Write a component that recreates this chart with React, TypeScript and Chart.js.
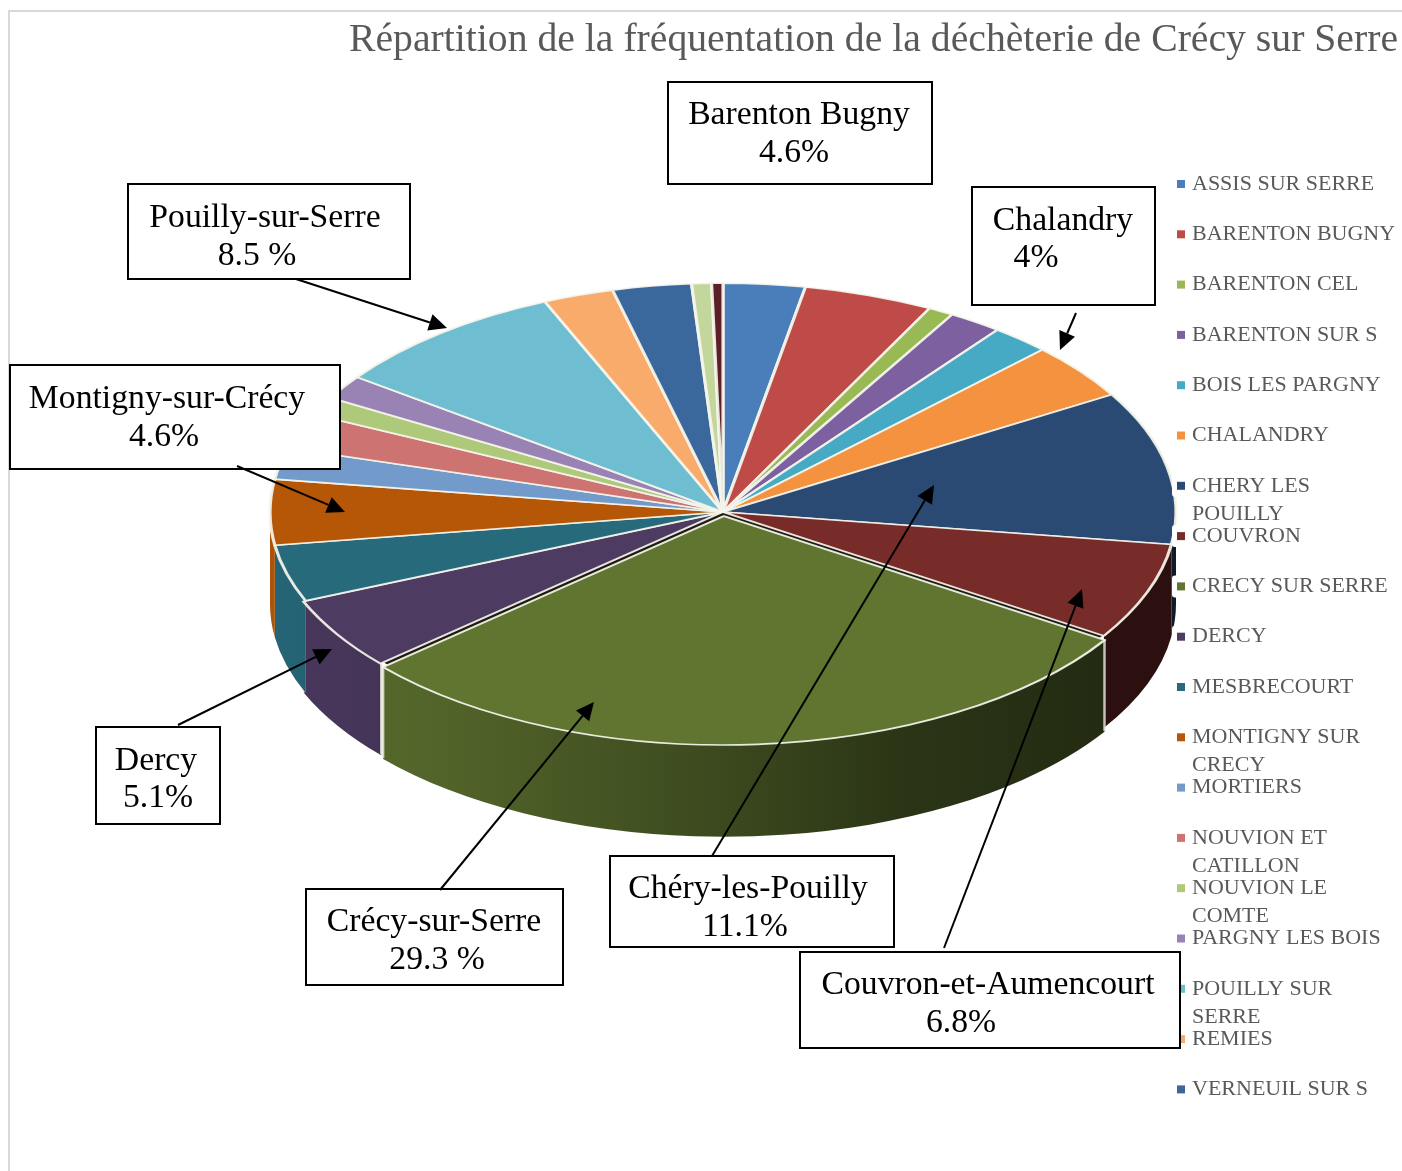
import React, { useEffect, useRef } from "react";
import { Chart, registerables } from "chart.js";

Chart.register(...registerables);

const titleText = "Répartition de la fréquentation de la déchèterie de Crécy sur Serre";

const communes = [
  "ASSIS SUR SERRE", "BARENTON BUGNY", "BARENTON CEL", "BARENTON SUR S", "BOIS LES PARGNY",
  "CHALANDRY", "CHERY LES POUILLY", "COUVRON", "CRECY SUR SERRE", "DERCY", "MESBRECOURT",
  "MONTIGNY SUR CRECY", "MORTIERS", "NOUVION ET CATILLON", "NOUVION LE COMTE", "PARGNY LES BOIS",
  "POUILLY SUR SERRE", "REMIES", "VERNEUIL SUR S", "", "",
];
const legendWraps: Record<string, string[]> = {
  "CHERY LES POUILLY": ["CHERY LES", "POUILLY"],
  "MONTIGNY SUR CRECY": ["MONTIGNY SUR", "CRECY"],
  "NOUVION ET CATILLON": ["NOUVION ET", "CATILLON"],
  "NOUVION LE COMTE": ["NOUVION LE", "COMTE"],
  "POUILLY SUR SERRE": ["POUILLY SUR", "SERRE"],
};
const shares = [2.9, 4.6, 0.9, 1.9, 2.1, 3.95, 10.8, 6.8, 29.3, 5.1, 4.0, 4.6, 2.2, 2.5, 1.3, 1.7, 8.5, 2.5, 2.8, 0.7, 0.4];
const sliceColors = [
  "#4a7ebb", "#be4b48", "#98b954", "#7d60a0", "#46aac4", "#f59240", "#2a4a73", "#772c2a", "#5f7530",
  "#4d3b62", "#276a7c", "#b65708", "#729aca", "#cd7371", "#afc97a", "#9983b5", "#6fbdd1", "#f9ab6b",
  "#3a679c", "#c3d69b", "#5c1f28",
];
const explode = [0, 0, 0, 0, 0, 0, 0, 0, 32, 6, 0, 0, 0, 0, 0, 0, 0, 0, 0, 0, 0];

const calloutTexts = [
  ["Barenton Bugny", "4.6%"],
  ["Chalandry", "4%"],
  ["Pouilly-sur-Serre", "8.5 %"],
  ["Montigny-sur-Crécy", "4.6%"],
  ["Dercy", "5.1%"],
  ["Crécy-sur-Serre", "29.3 %"],
  ["Chéry-les-Pouilly", "11.1%"],
  ["Couvron-et-Aumencourt", "6.8%"],
];
// box [x0,y0,x1,y1], text centres [x1,y1,x2,y2], arrow [fromX,fromY,toX,toY]
const calloutBoxes = [
  [668, 82, 932, 184], [972, 187, 1155, 305], [128, 184, 410, 279], [10, 365, 340, 469],
  [96, 727, 220, 824], [306, 889, 563, 985], [610, 856, 894, 947], [800, 952, 1180, 1048],
];
const calloutTextPos = [
  [799, 115, 794, 153], [1063, 221, 1036, 258], [265, 218, 257, 256], [167, 399, 164, 437],
  [156, 761, 158, 798], [434, 922, 437, 960], [748, 889, 745, 927], [988, 985, 961, 1023],
];
const calloutArrows = [
  null, [1076, 313, 1060, 350], [296, 279, 447, 328], [237, 466, 345, 512],
  [178, 725, 332, 649], [440, 890, 594, 702], [712, 856, 934, 485], [944, 948, 1082, 589],
];

const SERIF = "'Liberation Serif', serif";
const CX = 723, CY = 512, RX = 453, RATIO = 0.505, DEPTH = 92;
const LEGEND_FONT = 22, LEGEND_PAD = 28.3, LEGEND_KEY_X = 1177, LEGEND_FIRST_Y = 184;

function shade(hex: string, f: number) {
  const n = parseInt(hex.slice(1), 16);
  const c = (v: number) => Math.round(v * f);
  return `rgb(${c((n >> 16) & 255)},${c((n >> 8) & 255)},${c(n & 255)})`;
}

const pie3d = {
  id: "pie3d",
  afterLayout(chart: any) {
    const l = chart.legend;
    const itemH = l.legendHitBoxes[0] ? l.legendHitBoxes[0].height : LEGEND_FONT;
    l.left = LEGEND_KEY_X - LEGEND_PAD;
    l.right = 1402;
    l.top = LEGEND_FIRST_Y - LEGEND_PAD - itemH / 2;
    l.bottom = 1400;
  },
  beforeDatasetsDraw(chart: any) {
    const { ctx } = chart;
    const arcs = chart.getDatasetMeta(0).data;
    const base = arcs[0];
    const R = base.outerRadius;
    const ry = R * RATIO;
    ctx.save();
    ctx.fillStyle = "#1d1a10";
    ctx.beginPath();
    ctx.ellipse(CX, CY, R - 1, ry - 1, 0, 0, Math.PI * 2);
    ctx.fill();
    arcs.forEach((el: any, i: number) => {
      const a = Math.max(el.startAngle, 0);
      const b = Math.min(el.endAngle, Math.PI);
      if (b <= a) return;
      const mid = (el.startAngle + el.endAngle) / 2;
      const off = explode[i] / 4;
      const cx = CX + Math.cos(mid) * off;
      const cy = CY + Math.sin(mid) * off * RATIO;
      const g = ctx.createLinearGradient(CX - R, 0, CX + R, 0);
      [[0, 0.95], [0.2, 0.85], [0.5, 0.62], [0.7, 0.45], [0.92, 0.37], [1, 0.36]].forEach(([t, f]) =>
        g.addColorStop(t, shade(sliceColors[i], f))
      );
      ctx.fillStyle = g;
      ctx.beginPath();
      ctx.ellipse(cx, cy, R, ry, 0, a, b);
      ctx.ellipse(cx, cy + DEPTH, R, ry, 0, b, a, true);
      ctx.closePath();
      ctx.fill();
      if (explode[i] > 0) {
        ctx.strokeStyle = "rgba(235,235,225,0.8)";
        ctx.lineWidth = 2.5;
        [a, b].forEach((t) => {
          const x = cx + R * Math.cos(t);
          const y = cy + ry * Math.sin(t);
          ctx.beginPath();
          ctx.moveTo(x, y);
          ctx.lineTo(x, y + DEPTH - 1);
          ctx.stroke();
        });
      }
    });
    ctx.translate(CX, CY);
    ctx.scale(1, RATIO);
    ctx.translate(-base.x, -base.y);
  },
  afterDatasetsDraw(chart: any) {
    const { ctx } = chart;
    ctx.restore();
    const legend = chart.legend;
    ctx.save();
    legend.legendItems.forEach((item: any, i: number) => {
      const hb = legend.legendHitBoxes[i];
      const midY = hb.top + hb.height / 2;
      ctx.fillStyle = "#ffffff";
      ctx.beginPath();
      ctx.roundRect(hb.left - 5, midY - 11, 15, 22, 3);
      ctx.fill();
      ctx.fillStyle = item.fillStyle;
      ctx.fillRect(hb.left, midY - 4, 8, 8);
      const wrap = legendWraps[communes[item.index]];
      if (wrap) {
        ctx.fillStyle = "#595959";
        ctx.font = `${LEGEND_FONT}px ${SERIF}`;
        ctx.textAlign = "left";
        ctx.textBaseline = "middle";
        ctx.fillText(wrap[1], hb.left + 15, midY + 28);
      }
    });
    ctx.restore();
  },
  afterDraw(chart: any) {
    const { ctx } = chart;
    ctx.save();
    ctx.fillStyle = "#d9d9d9";
    ctx.fillRect(8, 10, 2, 1161);
    ctx.fillRect(8, 10, 1394, 2);
    calloutBoxes.forEach((b, i) => {
      ctx.fillStyle = "#ffffff";
      ctx.fillRect(b[0], b[1], b[2] - b[0], b[3] - b[1]);
      ctx.strokeStyle = "#000";
      ctx.lineWidth = 2;
      ctx.strokeRect(b[0], b[1], b[2] - b[0], b[3] - b[1]);
      const p = calloutTextPos[i];
      ctx.fillStyle = "#000";
      ctx.font = `33.7px ${SERIF}`;
      ctx.textAlign = "center";
      ctx.textBaseline = "middle";
      ctx.fillText(calloutTexts[i][0], p[0], p[1]);
      ctx.fillText(calloutTexts[i][1], p[2], p[3]);
    });
    calloutArrows.forEach((ar) => {
      if (!ar) return;
      const [x0, y0, x1, y1] = ar;
      const ang = Math.atan2(y1 - y0, x1 - x0);
      const len = 18;
      const hw = 8.5;
      const bx = x1 - Math.cos(ang) * len;
      const by = y1 - Math.sin(ang) * len;
      ctx.strokeStyle = "#000";
      ctx.lineWidth = 2;
      ctx.beginPath();
      ctx.moveTo(x0, y0);
      ctx.lineTo(bx, by);
      ctx.stroke();
      ctx.fillStyle = "#000";
      ctx.beginPath();
      ctx.moveTo(x1, y1);
      ctx.lineTo(bx - Math.sin(ang) * hw, by + Math.cos(ang) * hw);
      ctx.lineTo(bx + Math.sin(ang) * hw, by - Math.cos(ang) * hw);
      ctx.closePath();
      ctx.fill();
    });
    ctx.restore();
  },
};

export default function App() {
  const ref = useRef<HTMLCanvasElement>(null);
  useEffect(() => {
    const chart = new Chart(ref.current as HTMLCanvasElement, {
      type: "pie",
      plugins: [pie3d],
      data: {
        labels: communes,
        datasets: [
          {
            data: shares,
            backgroundColor: sliceColors,
            borderColor: "rgba(245,245,235,0.92)",
            borderWidth: 3.2,
            borderJoinStyle: "round",
            offset: explode,
            radius: RX,
            clip: false,
          } as any,
        ],
      },
      options: {
        responsive: false,
        animation: false,
        events: [],
        layout: { padding: { top: 0, right: 4, bottom: 0, left: 0 } },
        plugins: {
          tooltip: { enabled: false },
          title: {
            display: true,
            text: titleText,
            align: "end",
            color: "#595959",
            font: { family: SERIF, size: 39.7, weight: "normal" },
            padding: { top: 17, bottom: 7 },
          },
          legend: {
            position: "right",
            align: "start",
            labels: {
              color: "#595959",
              boxWidth: 4,
              boxHeight: 8,
              padding: LEGEND_PAD,
              font: { family: SERIF, size: LEGEND_FONT },
              filter: (item: any) => item.text !== "",
              generateLabels: (c: any) =>
                (Chart.overrides.pie.plugins.legend.labels.generateLabels as any)(c).map((it: any) => ({
                  ...it,
                  text: legendWraps[it.text] ? legendWraps[it.text][0] : it.text,
                  lineWidth: 0,
                  strokeStyle: "rgba(0,0,0,0)",
                })),
            },
          },
        },
      } as any,
    });
    return () => chart.destroy();
  }, []);
  return (
    <div style={{ position: "absolute", left: 0, top: 0, width: 1402, height: 1171, overflow: "hidden", background: "#fff" }}>
      <canvas ref={ref} width={1402} height={1171} style={{ display: "block" }} />
    </div>
  );
}
